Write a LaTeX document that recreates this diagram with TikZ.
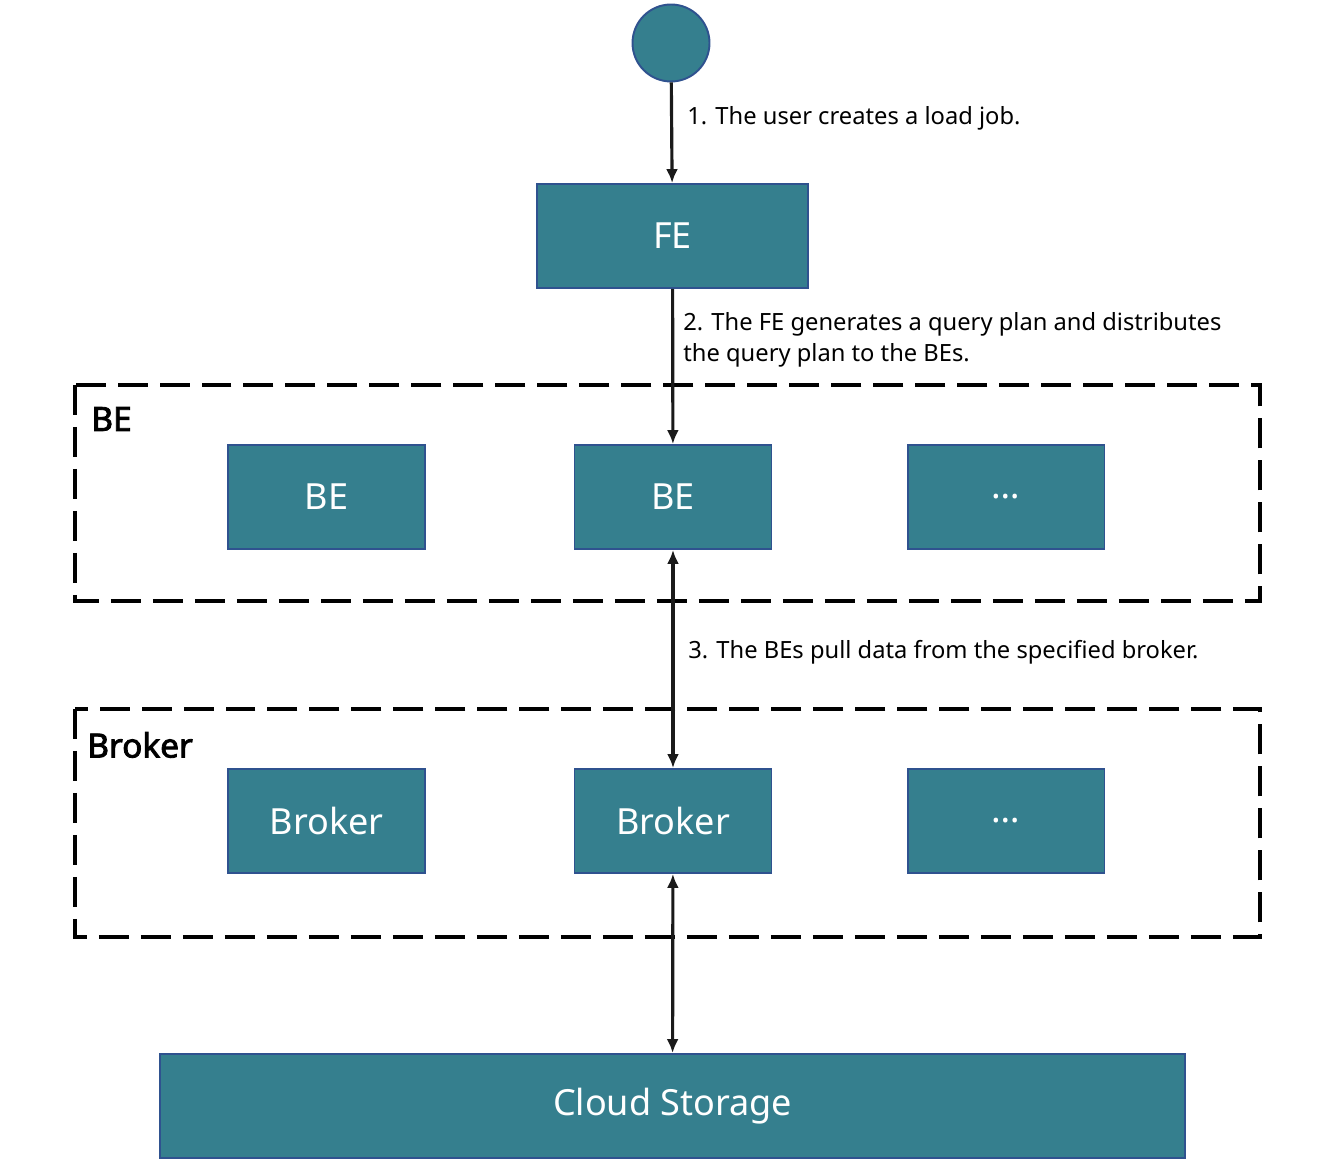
\documentclass[tikz,border=0pt]{standalone}
\usepackage{fontspec}
\setmainfont{Noto Sans}[BoldFont={Noto Sans},BoldFeatures={FakeBold=2.5}]
\usetikzlibrary{arrows,arrows.meta}
\definecolor{tealfill}{HTML}{357F8E}
\definecolor{tealedge}{HTML}{2F528F}
\definecolor{arrowgray}{HTML}{1A1A1A}
\begin{document}
\begin{tikzpicture}[x=0.02cm,y=-0.02cm,>={Latex[length=0.28cm,width=0.24cm]},
    unit/.style={rectangle,draw=tealedge,fill=tealfill,line width=1.1pt,
      text=white,font=\fontsize{20.5}{24}\selectfont,inner sep=0pt,
      minimum width=3.94cm,minimum height=2.08cm},
    group/.style={draw=black,line width=2.2pt,dash pattern=on 0.6cm off 0.24cm},
    grouplabel/.style={anchor=west,inner sep=0pt,font=\fontsize{19}{22}\selectfont\bfseries},
    flow/.style={draw=arrowgray,line width=1.8pt},
    note/.style={anchor=west,align=left,font=\fontsize{13.5}{18}\selectfont,inner sep=0pt}]
  \useasboundingbox (0,0) rectangle (1344,1168);
  % groups
  \draw[group] (75,385) rectangle (1260,601);
  \node[grouplabel] (belabel) at (91,419) {BE};
  \draw[group] (75,709) rectangle (1260,937);
  \node[grouplabel] (brokerlabel) at (87,745) {Broker};
  % nodes
  \node[circle,draw=tealedge,fill=tealfill,line width=1.1pt,minimum size=1.54cm] (user) at (671,43) {};
  \node[unit,minimum width=5.42cm] (fe) at (672.5,236) {FE};
  \node[unit] (be1) at (326.5,497) {BE};
  \node[unit] (be2) at (673,497) {BE};
  \node[unit] (be3) at (1006,497) {…};
  \node[unit] (br1) at (326.5,821) {Broker};
  \node[unit] (br2) at (673,821) {Broker};
  \node[unit] (br3) at (1006,821) {…};
  \node[unit,minimum width=20.5cm] (cloud) at (672.5,1106) {Cloud Storage};
  % connectors
  \draw[flow,->] (user) -- (fe);
  \draw[flow,->] (fe) -- (be2);
  \draw[flow,<->] (be2) -- (br2);
  \draw[flow,<->] (br2) -- (cloud);
  % steps
  \node[note] (step1) at (687,118) {1. The user creates a load job.};
  \node[note] (step2) at (683,340) {2. The FE generates a query plan and distributes\\the query plan to the BEs.};
  \node[note] (step3) at (688,652) {3. The BEs pull data from the specified broker.};
\end{tikzpicture}
\end{document}
